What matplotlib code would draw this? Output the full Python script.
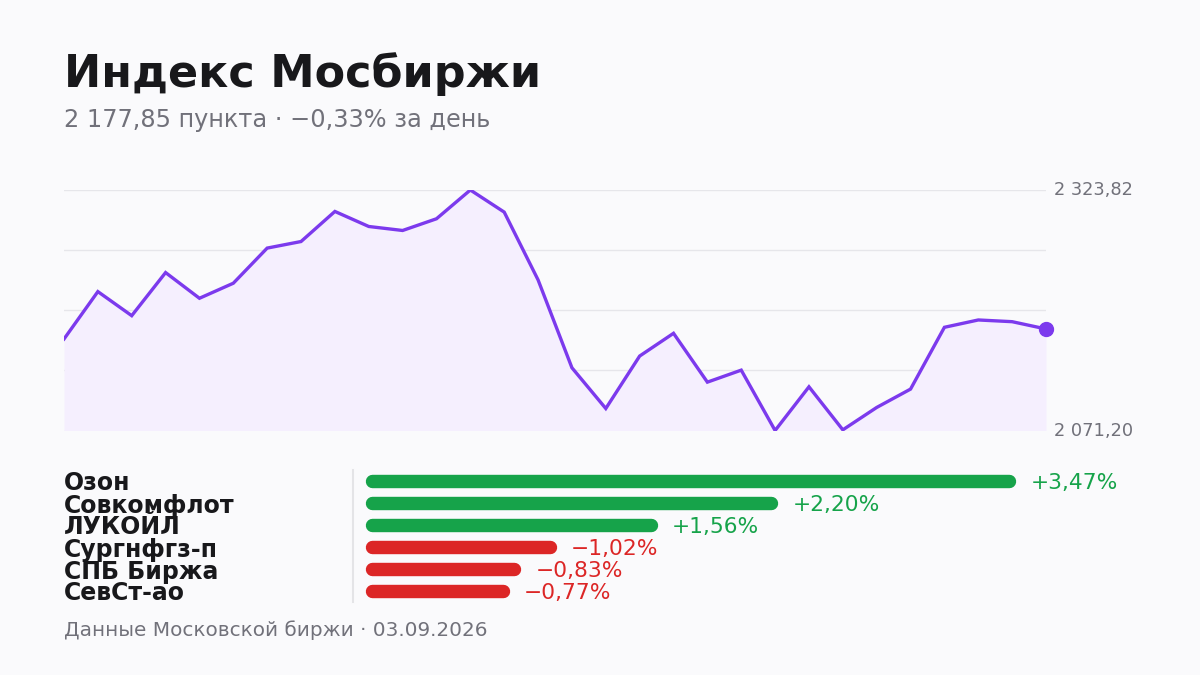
import numpy as np
import matplotlib
matplotlib.use("Agg")
import matplotlib.pyplot as plt
from matplotlib import transforms

plt.rcParams['font.family'] = ['DejaVu Sans']

# index closes (30 sessions)
index_values = [2167.3, 2217.1, 2191.8, 2237.1, 2210.1, 2225.9, 2262.8, 2269.7,
                2301.3, 2285.5, 2281.3, 2293.6, 2323.82, 2300.6, 2229.4, 2137.1,
                2094.3, 2149.4, 2173.3, 2122.0, 2134.6, 2071.20, 2117.1, 2071.9,
                2095.4, 2114.7, 2179.6, 2187.3, 2185.5, 2177.85]
day_change = -0.33

# top movers of the day
tickers = ['Озон', 'Совкомфлот', 'ЛУКОЙЛ', 'Сургнфгз-п', 'СПБ Биржа', 'СевСт-ао']
changes = [3.47, 2.20, 1.56, -1.02, -0.83, -0.77]

footer = 'Данные Московской биржи · 03.09.2026'

BG = '#fafafc'
INK = '#18181b'
GREY = '#71717a'
PURPLE = '#7c3aed'
GREEN = '#16a34a'
RED = '#dc2626'


def ru(v, digits=2):
    s = f'{abs(v):,.{digits}f}'.replace(',', ' ').replace('.', ',')
    return s


W, H = 1200, 675
fig = plt.figure(figsize=(12, 6.75), dpi=100, facecolor=BG)

fig.text(64 / W, 1 - 87 / H, 'Индекс Мосбиржи', fontsize=32, fontweight='bold',
         color=INK, va='baseline', ha='left')
sign = '−' if day_change < 0 else '+'
fig.text(64 / W, 1 - 127 / H,
         f'{ru(index_values[-1])} пункта · {sign}{ru(day_change)}% за день',
         fontsize=17.3, color=GREY, va='baseline', ha='left')
fig.text(64 / W, 1 - 636 / H, footer, fontsize=14.4, color=GREY,
         va='baseline', ha='left')

# ---- line chart
ax = fig.add_axes([64 / W, 1 - 430.5 / H, 982 / W, 240.5 / H])
ax.set_facecolor('none')
x = np.arange(len(index_values))
lo, hi = min(index_values), max(index_values)
ax.set_xlim(0, len(index_values) - 1)
ax.set_ylim(lo, hi)
for g in np.linspace(lo, hi, 5):
    ax.axhline(g, color='#e6e6ea', lw=1, zorder=0)
ax.fill_between(x, index_values, lo, color='#f5effe', lw=0, zorder=1)
ax.plot(x, index_values, color=PURPLE, lw=2.4, zorder=3, solid_joinstyle='miter')
ax.plot(x[-1], index_values[-1], 'o', color=PURPLE, ms=10, zorder=4, clip_on=False)
for s in ax.spines.values():
    s.set_visible(False)
ax.set_xticks([])
ax.set_yticks([])
tr = transforms.blended_transform_factory(ax.transAxes, ax.transData)
for v in (hi, lo):
    ax.text(1 + 8 / 982, v, ru(v), transform=tr, fontsize=12.8, color=GREY,
            va='center', ha='left')

# ---- movers bars
px_per_pct = 187.6
bx0 = 365
bax = fig.add_axes([bx0 / W, 1 - 602 / H, (W - bx0) / W, 132 / H])
bax.set_facecolor('none')
bax.set_xlim(0, (W - bx0) / px_per_pct)
bax.set_ylim(len(tickers) - 0.5, -0.5)
cap = 6.7 / px_per_pct
lw_pt = 13.4 * 72 / 100
ntr = transforms.blended_transform_factory(fig.transFigure, bax.transData)
for i, (name, v) in enumerate(zip(tickers, changes)):
    col = GREEN if v > 0 else RED
    bax.plot([cap, abs(v) - cap], [i, i], color=col, lw=lw_pt,
             solid_capstyle='round', clip_on=False)
    lab = ('+' if v > 0 else '−') + ru(v) + '%'
    bax.annotate(lab, (abs(v), i), xytext=(10.5, 0), textcoords='offset points',
                 fontsize=15.7, color=col, va='center_baseline', ha='left')
    bax.text(64 / W, i, name, transform=ntr, fontsize=17, fontweight='bold',
             color=INK, va='center_baseline', ha='left')
for s in bax.spines.values():
    s.set_visible(False)
bax.spines['left'].set_visible(True)
bax.spines['left'].set_position(('outward', 12 * 72 / 100))
bax.spines['left'].set_color('#e4e4e7')
bax.spines['left'].set_linewidth(1.5)
bax.set_xticks([])
bax.set_yticks([])

fig.savefig('out.png', dpi=100, facecolor=BG)
